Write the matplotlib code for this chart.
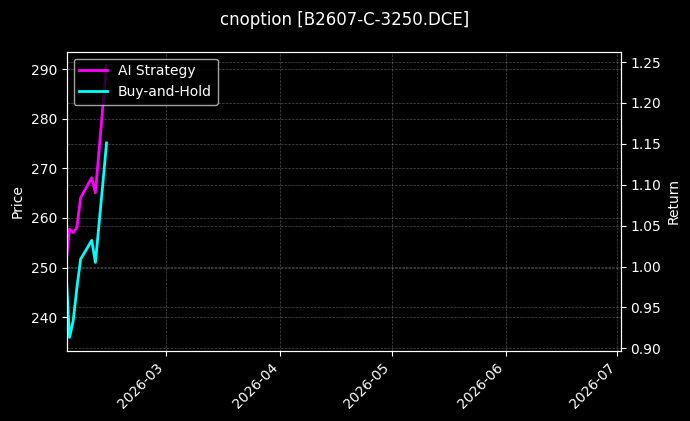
import numpy as np
import pandas as pd
import matplotlib
matplotlib.use('Agg')
from matplotlib import pyplot as plt
import matplotlib.dates as mdates

# trading days before the spring festival break
dates = pd.to_datetime(['2026-02-02', '2026-02-03', '2026-02-04', '2026-02-05',
                        '2026-02-06', '2026-02-09', '2026-02-10', '2026-02-11',
                        '2026-02-12', '2026-02-13'])
ai_return = [1.000, 1.0456, 1.0415, 1.0476, 1.0841, 1.1085, 1.0902, 1.143,
             1.195, 1.246]
bh_return = [1.000, 0.9134, 0.9338, 0.974, 1.009, 1.032, 1.005, 1.053,
             1.101, 1.151]
price_lim = (233.2, 293.5)
x_start = pd.Timestamp('2026-02-02 06:00')
x_end = pd.Timestamp('2026-07-01 22:00')

plt.style.use('dark_background')
fig = plt.figure(figsize=(6.9, 4.21), dpi=100)
ax1 = fig.add_axes([0.0967, 0.1663, 0.8029, 0.7109])
ax2 = ax1.twinx()

ax2.plot(dates, ai_return, color='#ff00ff', lw=2, label='AI Strategy')
ax2.plot(dates, bh_return, color='#00ffff', lw=2, label='Buy-and-Hold')

ax1.set_ylim(*price_lim)
ax1.set_xlim(x_start, x_end)
ax1.set_ylabel('Price')
ax2.set_ylabel('Return')

ax1.grid(True, ls='--', lw=0.5, alpha=0.3)
ax2.grid(True, ls='--', lw=0.5, alpha=0.3)

ax1.xaxis.set_major_locator(mdates.MonthLocator())
ax1.xaxis.set_major_formatter(mdates.DateFormatter('%Y-%m'))
plt.setp(ax1.get_xticklabels(), rotation=45, ha='right')

ax2.legend(loc='upper left')
fig.suptitle('cnoption [B2607-C-3250.DCE]', fontsize=12, y=0.975)

fig.savefig('out.png', dpi=100)
